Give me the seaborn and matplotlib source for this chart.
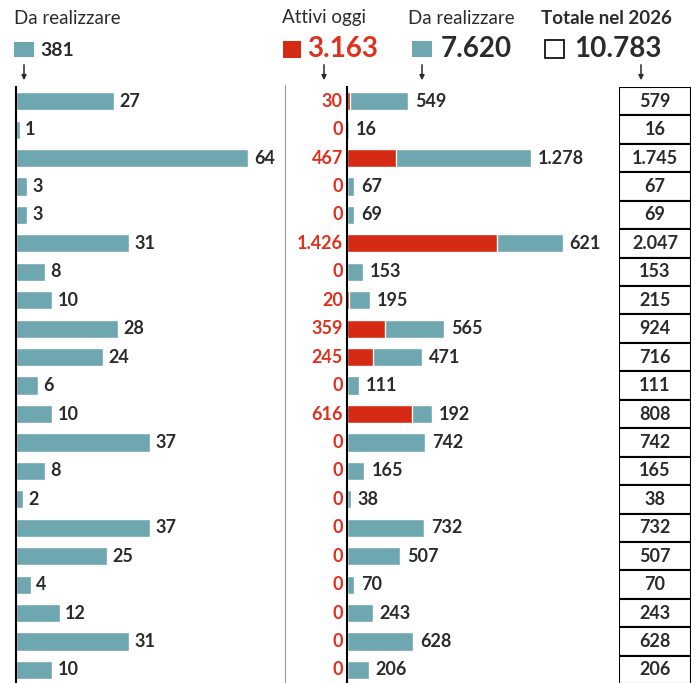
import matplotlib
matplotlib.use('Agg')
import matplotlib.pyplot as plt
import matplotlib.patches as mpatches
import numpy as np
import pandas as pd
import seaborn as sns

# values (one row per line)
da_realizzare_sx = [27, 1, 64, 3, 3, 31, 8, 10, 28, 24, 6, 10, 37, 8, 2, 37, 25, 4, 12, 31, 10]
attivi_oggi = [30, 0, 467, 0, 0, 1426, 0, 20, 359, 245, 0, 616, 0, 0, 0, 0, 0, 0, 0, 0, 0]
da_realizzare_dx = [549, 16, 1278, 67, 69, 621, 153, 195, 565, 471, 111, 192, 742, 165, 38,
                    732, 507, 70, 243, 628, 206]
totale_2026 = [579, 16, 1745, 67, 69, 2047, 153, 215, 924, 716, 111, 808, 742, 165, 38,
               732, 507, 70, 243, 628, 206]
header_labels = ["Da realizzare", "Attivi oggi", "Da realizzare", "Totale nel 2026"]
header_totals = ["381", "3.163", "7.620", "10.783"]

TEAL = "#6fa7b0"
RED = "#d52b14"
RED_TXT = "#e0301e"
DARK = "#2b2b2b"

sns.set_style("white")
plt.rcParams['font.family'] = ['Lato', 'DejaVu Sans']

def fmt(v):
    return f"{v:,}".replace(",", ".")

righe = [f"r{i}" for i in range(len(da_realizzare_sx))]
df = pd.DataFrame({
    "riga": righe,
    "sx": da_realizzare_sx,
    "attivi": attivi_oggi,
    "dx": da_realizzare_dx,
    "tot": np.array(attivi_oggi) + np.array(da_realizzare_dx),
})

W, H = 695, 683
fig = plt.figure(figsize=(W / 100, H / 100), dpi=100)

def box(x0, x1, y0, y1):
    return [x0 / W, 1 - y1 / H, (x1 - x0) / W, (y1 - y0) / H]

ylim = (20.46, -0.5)
NUM = 13
BIG = 20

# left panel
ax1 = fig.add_axes(box(16, 285, 87, 683))
sns.barplot(data=df, y="riga", x="sx", orient="h", color=TEAL, width=0.64,
            saturation=1, ax=ax1)
ax1.set_xlim(0, 269 / 3.63)
ax1.set_ylim(*ylim)
for i, v in enumerate(da_realizzare_sx):
    ax1.annotate(fmt(v), xy=(v, i), xytext=(4, 0), textcoords="offset points",
                 ha="left", va="center", fontsize=NUM, fontweight="bold", color=DARK)

# middle panel: stacked bars (teal total, red attivi on top)
ax2 = fig.add_axes(box(347, 619, 87, 683))
sns.barplot(data=df, y="riga", x="tot", orient="h", color=TEAL, width=0.64,
            saturation=1, ax=ax2)
sns.barplot(data=df, y="riga", x="attivi", orient="h", color=RED, width=0.64,
            saturation=1, ax=ax2)
ax2.set_xlim(0, 272 / 0.1054)
ax2.set_ylim(*ylim)
for i, (a, d) in enumerate(zip(attivi_oggi, da_realizzare_dx)):
    ax2.annotate(fmt(d), xy=(a + d, i), xytext=(5, 0), textcoords="offset points",
                 ha="left", va="center", fontsize=NUM, fontweight="bold", color=DARK)
    ax2.annotate(fmt(a), xy=(0, i), xytext=(-3, 0), textcoords="offset points",
                 ha="right", va="center", fontsize=NUM, fontweight="bold", color=RED_TXT,
                 annotation_clip=False)

# totals column
ax3 = fig.add_axes(box(619, 691, 87, 683))
ax3.set_xlim(0, 1)
ax3.set_ylim(*ylim)
for i, t in enumerate(totale_2026):
    ax3.add_patch(mpatches.Rectangle((0, i - 0.5), 1, 1, facecolor="white",
                                     edgecolor="black", lw=1.5))
    ax3.text(0.5, i, fmt(t), ha="center", va="center", fontsize=NUM,
             fontweight="bold", color=DARK)

for ax in (ax1, ax2, ax3):
    ax.set_xlabel("")
    ax.set_ylabel("")
    ax.set_xticks([])
    ax.set_yticks([])
    for s in ax.spines.values():
        s.set_visible(False)
for ax in (ax1, ax2):
    ax.spines["left"].set_visible(True)
    ax.spines["left"].set_color("black")
    ax.spines["left"].set_linewidth(1.5)

# thin separator between the two panels
fig.add_artist(plt.Line2D([285 / W, 285 / W], [0, 1 - 85 / H], color="#9a9a9a", lw=0.8))

# headers
def fp(x, y):
    return x / W, 1 - y / H

hx = [14, 282, 408, 541]
for x, lab in zip(hx, header_labels):
    fig.text(*fp(x, 18), lab, ha="left", va="center", fontsize=13.5, color=DARK,
             fontweight="bold" if lab.startswith("Totale") else "normal")

# legend swatches and totals
fig.add_artist(mpatches.Rectangle(fp(14, 57), 20 / W, 15 / H, transform=fig.transFigure,
                                  facecolor=TEAL, edgecolor="none"))
fig.text(*fp(40, 50), header_totals[0], ha="left", va="center", fontsize=14,
         fontweight="bold", color=DARK)
fig.add_artist(mpatches.Rectangle(fp(283, 58), 18 / W, 17 / H, transform=fig.transFigure,
                                  facecolor=RED, edgecolor="none"))
fig.text(*fp(307, 49), header_totals[1], ha="left", va="center", fontsize=BIG,
         fontweight="bold", color=RED_TXT)
fig.add_artist(mpatches.Rectangle(fp(412, 57), 20 / W, 16 / H, transform=fig.transFigure,
                                  facecolor=TEAL, edgecolor="none"))
fig.text(*fp(441, 49), header_totals[2], ha="left", va="center", fontsize=BIG,
         fontweight="bold", color=DARK)
fig.add_artist(mpatches.Rectangle(fp(545, 58), 19 / W, 18 / H, transform=fig.transFigure,
                                  facecolor="white", edgecolor="black", lw=1.2))
fig.text(*fp(574, 49), header_totals[3], ha="left", va="center", fontsize=BIG,
         fontweight="bold", color=DARK)

# small down arrows
for x in (24, 324, 422, 641):
    fig.add_artist(mpatches.FancyArrowPatch(fp(x, 62), fp(x, 83), transform=fig.transFigure,
                                            arrowstyle="-|>", mutation_scale=7,
                                            color=DARK, lw=1.1))

fig.savefig("out.png", dpi=100, facecolor="white")
